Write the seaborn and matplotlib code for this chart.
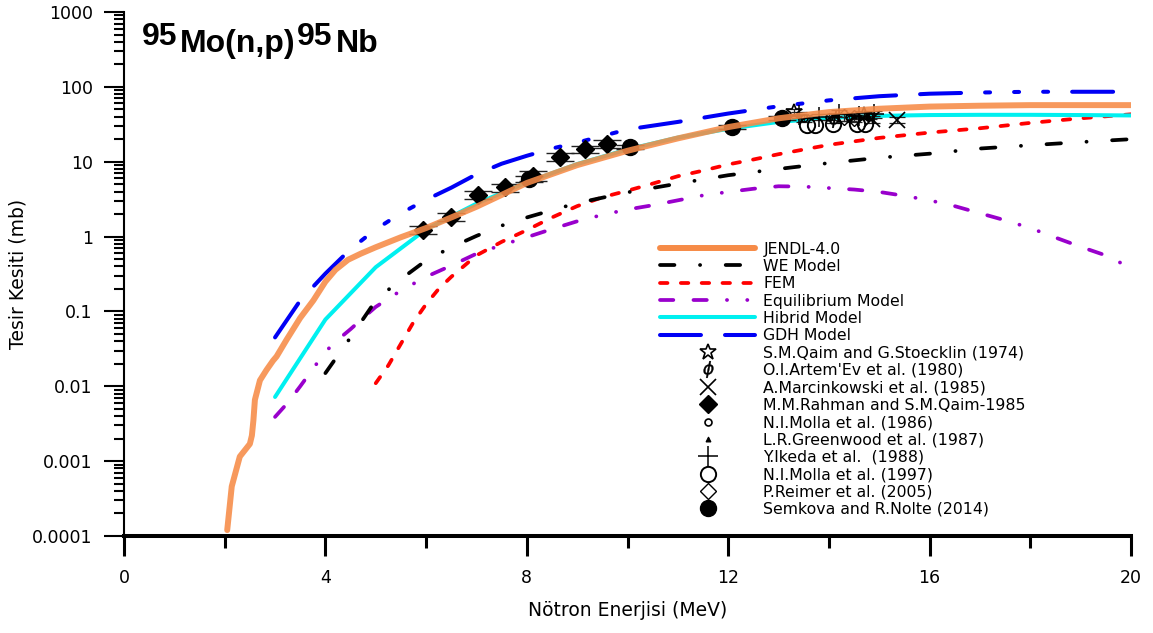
import matplotlib
matplotlib.use("Agg")
import matplotlib.pyplot as plt
import seaborn as sns
import pandas as pd
from matplotlib.lines import Line2D
from matplotlib.ticker import FixedLocator, LogLocator, FuncFormatter, NullFormatter

# ---------------- data ----------------
# JENDL-4.0 evaluated excitation function
jendl_E = [2.05, 2.14, 2.30, 2.50, 2.54, 2.57, 2.60, 2.70, 2.83, 2.96, 3.03, 3.23, 3.50,
           3.76, 4.0, 4.2, 4.45, 4.7, 5.0, 5.5, 6.0, 6.5, 7.0, 7.5, 8.0, 9.0, 10.0, 11.0,
           12.0, 13.0, 14.0, 15.0, 16.0, 17.0, 18.0, 19.0, 20.0]
jendl_xs = [0.00012, 0.00046, 0.00115, 0.0017, 0.0022, 0.0035, 0.0066, 0.012, 0.0165,
            0.022, 0.025, 0.042, 0.082, 0.14, 0.25, 0.36, 0.49, 0.59, 0.72, 0.98, 1.3, 1.8,
            2.5, 3.6, 5.2, 9.0, 14.0, 20.5, 29.0, 38.0, 46.0, 51.0, 54.5, 56.0, 57.0, 57.0,
            57.0]

# Weisskopf-Ewing model
we_E = [4.0, 4.5, 5.0, 5.5, 6.0, 6.5, 7.0, 7.5, 8.0, 8.5, 9.0, 10.0, 11.0, 12.0, 13.0,
        14.0, 15.0, 16.0, 17.0, 18.0, 19.0, 20.0]
we_xs = [0.015, 0.045, 0.14, 0.27, 0.48, 0.72, 1.02, 1.4, 1.8, 2.25, 2.8, 3.9, 5.1, 6.6,
         8.0, 9.6, 11.3, 12.8, 15.0, 16.6, 18.3, 20.0]

# Full exciton model
fem_E = [5.0, 5.25, 5.5, 5.75, 6.0, 6.25, 6.5, 7.0, 7.5, 8.0, 8.5, 9.0, 9.5, 10.0, 10.5,
         11.0, 11.5, 12.0, 12.5, 13.0, 14.0, 15.0, 16.0, 17.0, 18.0, 19.0, 20.0]
fem_xs = [0.011, 0.019, 0.037, 0.072, 0.125, 0.2, 0.29, 0.56, 0.85, 1.22, 1.8, 2.55, 3.35,
          4.1, 5.1, 6.4, 7.6, 9.2, 10.7, 12.6, 16.8, 20.8, 24.5, 28.0, 33.0, 38.0, 43.0]

# Equilibrium model
eq_E = [3.0, 3.25, 3.5, 3.75, 4.0, 4.25, 4.5, 4.75, 5.0, 5.5, 6.0, 6.5, 7.0, 7.5, 8.0, 8.5,
        9.0, 9.5, 10.0, 10.5, 11.0, 11.5, 12.0, 12.5, 13.0, 13.5, 14.0, 14.5, 15.0, 15.5,
        16.0, 16.5, 17.0, 17.5, 18.0, 18.5, 19.0, 19.5, 20.0]
eq_xs = [0.0039, 0.006, 0.010, 0.017, 0.029, 0.042, 0.058, 0.082, 0.115, 0.19, 0.29, 0.41,
         0.59, 0.77, 0.98, 1.26, 1.6, 1.95, 2.3, 2.62, 3.05, 3.55, 3.95, 4.35, 4.7, 4.65,
         4.45, 4.25, 3.95, 3.5, 3.05, 2.55, 2.05, 1.65, 1.3, 0.97, 0.73, 0.56, 0.38]

# Hybrid model
hyb_E = [3.0, 4.0, 5.0, 6.0, 7.0, 8.0, 9.0, 10.0, 11.0, 12.0, 13.0, 14.0, 15.0, 16.0,
         17.0, 18.0, 19.0, 20.0]
hyb_xs = [0.0072, 0.078, 0.39, 1.25, 2.75, 5.3, 9.3, 14.6, 21.0, 27.5, 34.0, 38.5, 41.0,
          42.0, 42.3, 42.3, 42.0, 41.5]

# Geometry-dependent hybrid model
gdh_E = [3.0, 3.5, 4.0, 4.5, 5.0, 5.5, 6.0, 6.5, 7.0, 7.5, 8.0, 8.5, 9.0, 10.0, 11.0,
         12.0, 13.0, 14.0, 15.0, 16.0, 17.0, 18.0, 19.0, 20.0]
gdh_xs = [0.045, 0.14, 0.32, 0.68, 1.25, 2.05, 3.1, 4.5, 6.8, 9.4, 12.0, 15.0, 18.0, 27.0,
          34.0, 44.0, 55.0, 66.0, 75.0, 81.0, 84.0, 86.0, 86.0, 86.0]

# Experimental data (EXFOR)
qaim_E, qaim_xs = [13.3, 14.7], [46.0, 42.0]
artemev_E, artemev_xs = [14.1], [37.0]
marcin_E, marcin_xs = [14.85, 15.35], [37.0, 36.0]
molla86_E, molla86_xs = [13.5, 14.0, 14.4, 14.8], [38.0, 40.0, 39.0, 41.0]
green_E, green_xs = [14.5], [41.0]
ikeda_E, ikeda_xs = [13.4, 13.8, 14.2, 14.6, 14.9], [42.0, 40.0, 44.0, 41.0, 43.0]
molla97_E, molla97_xs = [13.56, 13.72, 14.09, 14.55, 14.72], [31.0, 31.0, 31.5, 31.5, 32.0]
reimer_E, reimer_xs = [14.3, 14.5], [39.0, 38.0]
rahman_E = [5.93, 6.49, 7.04, 7.57, 8.13, 8.66, 9.15, 9.59]
rahman_xs = [1.22, 1.85, 3.6, 4.55, 6.5, 11.7, 14.7, 17.3]
rahman_err = [0.15, 0.22, 0.45, 0.55, 1.0, 1.4, 1.7, 2.0]
semkova_E = [8.05, 10.05, 12.07, 13.06]
semkova_xs = [5.9, 15.6, 29.5, 38.0]
semkova_err = [0.5, 1.0, 1.8, 2.2]

x_ticks = [0, 4, 8, 12, 16, 20]
y_ticks = [1e-4, 1e-3, 1e-2, 1e-1, 1, 10, 100, 1000]

# ---------------- style ----------------
sns.set_style("ticks")
plt.rcParams["font.family"] = ["DejaVu Sans"]
plt.rcParams["lines.scale_dashes"] = False
for key in ("text.color", "axes.labelcolor", "xtick.color", "ytick.color",
            "axes.edgecolor", "xtick.labelcolor", "ytick.labelcolor"):
    plt.rcParams[key] = "black"

C_JENDL = "#F68B47"
C_HYB = "#00F0F0"
C_GDH = "#0000F5"
C_FEM = "#FF0000"
C_EQ = "#9900CC"
C_WE = "#000000"

we_ls = (0, (10.4, 18.4, 0.1, 18.4))
fem_ls = (0, (5.4, 9.6))
eq_ls = (0, (9.6, 14.5, 9.6, 14.5, 0.1, 14.5, 0.1, 14.5))
gdh_ls = (0, (29.5, 17.3, 29.5, 17.3, 3.6, 17.3, 3.6, 17.3, 3.6, 17.3))

fig = plt.figure(figsize=(11.53, 6.33), dpi=100)
ax = fig.add_axes([124 / 1153, 1 - 536 / 633, (1131 - 124) / 1153, (536 - 12) / 633])
ax.set_yscale("log")


def curve(E, xs, color, lw, ls, z, alpha=1.0):
    df = pd.DataFrame({"E": E, "xs": xs})
    sns.lineplot(data=df, x="E", y="xs", ax=ax, color=color, linewidth=lw,
                 linestyle=ls, dash_capstyle="round", solid_capstyle="round",
                 estimator=None, sort=False, legend=False, zorder=z, alpha=alpha)


curve(eq_E, eq_xs, C_EQ, 2.7, eq_ls, 3)
curve(fem_E, fem_xs, C_FEM, 2.7, fem_ls, 3)
curve(we_E, we_xs, C_WE, 2.7, we_ls, 3)
curve(gdh_E, gdh_xs, C_GDH, 2.9, gdh_ls, 3)
curve(hyb_E, hyb_xs, C_HYB, 2.9, "-", 4)

# experimental points
ax.errorbar(rahman_E, rahman_xs, yerr=rahman_err, fmt="none", ecolor="#222222",
            elinewidth=1.0, capsize=10, capthick=1.0, zorder=5)
ax.errorbar(semkova_E, semkova_xs, yerr=semkova_err, fmt="none", ecolor="#222222",
            elinewidth=1.0, capsize=10, capthick=1.0, zorder=5)

cluster_E = qaim_E + artemev_E + marcin_E + molla86_E + green_E + ikeda_E + reimer_E
cluster_xs = qaim_xs + artemev_xs + marcin_xs + molla86_xs + green_xs + ikeda_xs + reimer_xs
ax.errorbar(cluster_E, cluster_xs, yerr=[0.1 * v for v in cluster_xs], fmt="none",
            ecolor="#222222", elinewidth=0.9, capsize=6, capthick=0.9, zorder=5)

exp_styles = [
    (qaim_E, qaim_xs, dict(marker="*", ms=12, mfc="none", mec="k", mew=1.2), "S.M.Qaim and G.Stoecklin (1974)"),
    (artemev_E, artemev_xs, dict(marker=r"$\phi$", ms=12, mfc="k", mec="k", mew=0.3), "O.I.Artem'Ev et al. (1980)"),
    (marcin_E, marcin_xs, dict(marker="x", ms=11, mec="k", mew=1.2), "A.Marcinkowski et al. (1985)"),
    (rahman_E, rahman_xs, dict(marker="D", ms=9, mfc="k", mec="k", mew=1.0), "M.M.Rahman and S.M.Qaim-1985"),
    (molla86_E, molla86_xs, dict(marker="o", ms=5, mfc="none", mec="k", mew=1.2), "N.I.Molla et al. (1986)"),
    (green_E, green_xs, dict(marker="^", ms=3.5, mfc="k", mec="k", mew=0.8), "L.R.Greenwood et al. (1987)"),
    (ikeda_E, ikeda_xs, dict(marker="+", ms=14, mec="k", mew=1.1), "Y.Ikeda et al.  (1988)"),
    (molla97_E, molla97_xs, dict(marker="o", ms=11, mfc="none", mec="k", mew=1.4), "N.I.Molla et al. (1997)"),
    (reimer_E, reimer_xs, dict(marker="D", ms=8, mfc="none", mec="k", mew=1.0), "P.Reimer et al. (2005)"),
    (semkova_E, semkova_xs, dict(marker="o", ms=11.5, mfc="k", mec="k", mew=1.0), "Semkova and R.Nolte (2014)"),
]
for E, xs, kw, _ in exp_styles:
    ax.plot(E, xs, ls="none", zorder=6, **kw)

# evaluated data drawn last, slightly translucent
curve(jendl_E, jendl_xs, C_JENDL, 4.3, "-", 7, alpha=0.88)

# ---------------- axes ----------------
ax.set_xlim(0, 20)
ax.set_ylim(1e-4, 1000)
ax.xaxis.set_major_locator(FixedLocator(x_ticks))
ax.xaxis.set_minor_locator(FixedLocator([2, 6, 10, 14, 18]))
ax.yaxis.set_major_locator(FixedLocator(y_ticks))
ax.yaxis.set_minor_locator(LogLocator(base=10, subs=range(2, 10), numticks=20))
ax.yaxis.set_major_formatter(FuncFormatter(lambda v, p: f"{v:g}"))
ax.yaxis.set_minor_formatter(NullFormatter())

for s in ("top", "right"):
    ax.spines[s].set_visible(False)
ax.spines["bottom"].set_linewidth(2.9)
ax.spines["left"].set_linewidth(1.5)
ax.tick_params(axis="x", which="major", direction="out", length=14.5, width=2.2,
               pad=9.5, labelsize=12.5)
ax.tick_params(axis="x", which="minor", direction="out", length=8.5, width=2.2)
ax.tick_params(axis="y", which="major", direction="out", length=14.5, width=1.5,
               pad=8, labelsize=12.5)
ax.tick_params(axis="y", which="minor", direction="out", length=7.5, width=1.5)
ax.tick_params(top=False, right=False)

ax.set_xlabel("Nötron Enerjisi (MeV)", fontsize=13.5)
ax.set_ylabel("Tesir Kesiti (mb)", fontsize=13.5)
ax.xaxis.set_label_coords(0.5, -0.124)
ax.yaxis.set_label_coords(-0.096, 0.5)
ax.grid(False)

# reaction title with raised mass numbers
tkw = dict(fontsize=23, fontweight="bold", family="Liberation Sans", color="k")
t1 = fig.text(142 / 1153, 1 - 45 / 633, "95", va="baseline", ha="left", **tkw)
t2 = ax.annotate("Mo(n,p)", xy=(1, 0), xycoords=t1, xytext=(1.5, -5.2),
                 textcoords="offset points", va="bottom", ha="left", **tkw)
t3 = ax.annotate("95", xy=(1, 0), xycoords=t2, xytext=(1.5, 5.2),
                 textcoords="offset points", va="bottom", ha="left", **tkw)
ax.annotate("Nb", xy=(1, 0), xycoords=t3, xytext=(2.0, -5.2),
            textcoords="offset points", va="bottom", ha="left", **tkw)

# ---------------- legend ----------------
handles = [
    Line2D([], [], color=C_JENDL, lw=4.3, solid_capstyle="round"),
    Line2D([], [], color=C_WE, lw=2.7, ls=we_ls, dash_capstyle="round"),
    Line2D([], [], color=C_FEM, lw=2.7, ls=fem_ls, dash_capstyle="round"),
    Line2D([], [], color=C_EQ, lw=2.7, ls=eq_ls, dash_capstyle="round"),
    Line2D([], [], color=C_HYB, lw=2.9, solid_capstyle="round"),
    Line2D([], [], color=C_GDH, lw=2.9, ls=gdh_ls, dash_capstyle="round"),
]
labels = ["JENDL-4.0", "WE Model", "FEM", "Equilibrium Model", "Hibrid Model", "GDH Model"]
for _, _, kw, lab in exp_styles:
    handles.append(Line2D([], [], ls="none", **kw))
    labels.append(lab)

leg = ax.legend(handles, labels, loc="upper left", bbox_to_anchor=(0.532, 0.562),
                frameon=False, fontsize=11.3, handlelength=6.1, handletextpad=0.5,
                labelspacing=0.15, borderpad=0, borderaxespad=0, numpoints=1)

fig.savefig("out.png", dpi=100, facecolor="white")
